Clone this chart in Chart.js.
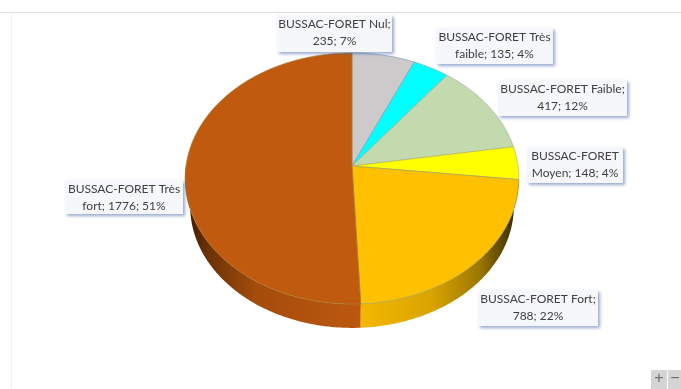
<!DOCTYPE html>
<html>
<head>
<meta charset="utf-8">
<style>
  html, body { margin: 0; padding: 0; background: #fff; overflow: hidden; }
  canvas { display: block; }
</style>
<script src="https://cdn.jsdelivr.net/npm/chart.js@4"></script>
</head>
<body>
<canvas id="pie" width="681" height="389"></canvas>
<script>
// Wind-hazard classes for the commune, clockwise from twelve o'clock.
const categories = ['BUSSAC-FORET Nul', 'BUSSAC-FORET Très faible', 'BUSSAC-FORET Faible',
  'BUSSAC-FORET Moyen', 'BUSSAC-FORET Fort', 'BUSSAC-FORET Très fort'];
const values = [235, 135, 417, 148, 788, 1776];
const sliceColors = ['#CCCACA', '#00FFFF', '#C3DAAF', '#FFFF00', '#FFC000', '#C05A0E'];
const sliceEdges = ['#7F9ABD', '#7FA8B8', '#9FAE9A', '#B4B460', '#9AA458', '#A87C30'];

// Callout text, wrapped as it is laid out in each box.
const calloutLines = [
  ['BUSSAC-FORET Nul;', '235; 7%'],
  ['BUSSAC-FORET Très', 'faible; 135; 4%'],
  ['BUSSAC-FORET Faible;', '417; 12%'],
  ['BUSSAC-FORET', 'Moyen; 148; 4%'],
  ['BUSSAC-FORET Fort;', '788; 22%'],
  ['BUSSAC-FORET Très', 'fort; 1776; 51%']
];
const calloutBoxes = [
  [277, 15, 115, 37], [436, 28, 117, 36], [498, 80, 129, 36],
  [527, 147, 96, 36], [478, 290, 120, 36], [65, 180, 118, 34]
];

// Perspective view of the disc: the hub sits above the centre of the ellipse.
const view = { cx: 352, cy: 166, rx: 166, ry: 124.3, k: 0.0996, depth: 28, baseScale: 0.97 };

function project(theta, scale, drop) {
  const X = Math.sin(theta), Y = -Math.cos(theta);
  const d = 1 - view.k * Y;
  return [view.cx + scale * view.rx * X / d, view.cy + drop + scale * view.ry * Y / d];
}

function traceRim(ctx, from, to, scale, drop) {
  const steps = Math.max(2, Math.ceil(Math.abs(to - from) / 0.01));
  for (let i = 0; i <= steps; i++) {
    const p = project(from + (to - from) * i / steps, scale, drop);
    ctx.lineTo(p[0], p[1]);
  }
}

const wallShades = {
  4: [[0, '#F4B800'], [0.45, '#D9A400'], [0.75, '#9C7600'], [0.93, '#4A3800'], [1, '#1E1700']],
  5: [[0, '#3E1A00'], [0.12, '#6A3004'], [0.4, '#A44C0C'], [1, '#BC580F']]
};
const wallSpans = { 4: [360, 520], 5: [186, 360] };

const tiltedDisc = {
  id: 'tiltedDisc',
  // Frame and zoom buttons behind the chart.
  beforeDraw(chart) {
    const ctx = chart.ctx;
    ctx.save();
    ctx.fillStyle = '#fff';
    ctx.fillRect(0, 0, 681, 389);
    ctx.fillStyle = '#DEDEDE';
    ctx.fillRect(0, 12, 681, 1);
    ctx.fillStyle = '#F0F0F0';
    ctx.fillRect(11, 13, 1, 376);
    ctx.fillStyle = '#D4D4D4';
    ctx.fillRect(651, 370, 16, 19);
    ctx.fillRect(668, 370, 13, 19);
    ctx.fillStyle = '#707070';
    ctx.font = '16px "Liberation Sans"';
    ctx.textAlign = 'center';
    ctx.textBaseline = 'middle';
    ctx.fillText('+', 659, 379);
    ctx.fillText('−', 675, 379);
    ctx.restore();
  },
  // Slices take their angles from the arc elements computed by the pie controller.
  beforeDatasetsDraw(chart) {
    const ctx = chart.ctx;
    const arcs = chart.getDatasetMeta(0).data;
    const spans = arcs.map(a => [a.startAngle + Math.PI / 2, a.endAngle + Math.PI / 2]);

    // Side wall: only the near half of the disc shows it.
    spans.forEach((s, i) => {
      const from = Math.max(s[0], Math.PI / 2), to = Math.min(s[1], Math.PI * 1.5);
      if (to <= from || !wallShades[i]) return;
      const g = ctx.createLinearGradient(wallSpans[i][0], 0, wallSpans[i][1], 0);
      wallShades[i].forEach(c => g.addColorStop(c[0], c[1]));
      ctx.beginPath();
      traceRim(ctx, from, to, 1, 0);
      traceRim(ctx, to, from, view.baseScale, view.depth);
      ctx.closePath();
      ctx.fillStyle = g;
      ctx.fill();
    });

    // Top face.
    spans.forEach((s, i) => {
      ctx.beginPath();
      ctx.moveTo(view.cx, view.cy);
      traceRim(ctx, s[0], s[1], 1, 0);
      ctx.closePath();
      ctx.fillStyle = sliceColors[i];
      ctx.fill();
      ctx.lineWidth = 0.7;
      ctx.strokeStyle = sliceEdges[i];
      ctx.stroke();
    });
    return false;
  },
  // Callouts over the finished disc.
  afterDraw(chart) {
    const ctx = chart.ctx;
    calloutBoxes.forEach((b, i) => {
      ctx.save();
      ctx.shadowColor = 'rgba(70,100,170,0.55)';
      ctx.shadowBlur = 3;
      ctx.shadowOffsetX = 2;
      ctx.shadowOffsetY = 2;
      ctx.fillStyle = '#F5F7FB';
      ctx.fillRect(b[0], b[1], b[2], b[3]);
      ctx.restore();
      ctx.fillStyle = '#404040';
      ctx.font = '12px Lato';
      ctx.textAlign = 'center';
      ctx.textBaseline = 'middle';
      calloutLines[i].forEach((line, n) => {
        ctx.fillText(line, b[0] + b[2] / 2, b[1] + 9.5 + n * 16.5);
      });
    });
  }
};

new Chart(document.getElementById('pie'), {
  type: 'pie',
  data: {
    labels: categories,
    datasets: [{ data: values, backgroundColor: sliceColors, borderColor: sliceEdges }]
  },
  options: {
    responsive: false,
    animation: false,
    events: [],
    plugins: { legend: { display: false }, tooltip: { enabled: false } }
  },
  plugins: [tiltedDisc]
});
</script>
</body>
</html>
